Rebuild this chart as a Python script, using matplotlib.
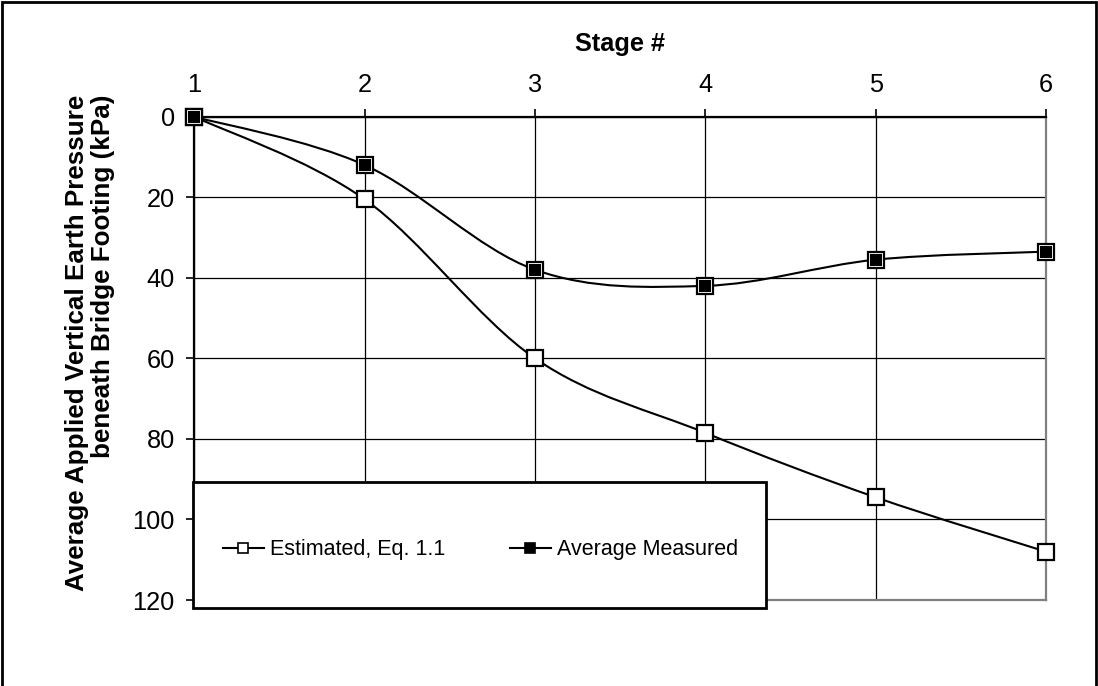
import numpy as np
import matplotlib
matplotlib.use("Agg")
import matplotlib.pyplot as plt
from matplotlib.path import Path
from matplotlib.patches import PathPatch, Rectangle
from matplotlib.lines import Line2D

plt.rcParams['font.family'] = ['Liberation Sans', 'DejaVu Sans']

stages = [1, 2, 3, 4, 5, 6]
estimated = [0, 20.5, 60, 78.5, 94.5, 108]
measured = [0, 12, 38, 42, 35.5, 33.5]
yticks = [0, 20, 40, 60, 80, 100, 120]
xlabel = "Stage #"
ylabel = "Average Applied Vertical Earth Pressure\nbeneath Bridge Footing (kPa)"
labels = ["Estimated, Eq. 1.1", "Average Measured"]

W, H = 1098, 686
fig = plt.figure(figsize=(W / 100, H / 100), dpi=100)
ax = fig.add_axes([194.3 / W, 1 - 600 / H, (1046 - 194.3) / W, (600 - 116.7) / H])

def smooth_path(xs, ys):
    pts = np.column_stack([xs, ys]).astype(float)
    n = len(pts)
    verts = [pts[0]]
    codes = [Path.MOVETO]
    for i in range(n - 1):
        p0 = pts[max(i - 1, 0)]
        p1 = pts[i]
        p2 = pts[i + 1]
        p3 = pts[min(i + 2, n - 1)]
        c1 = p1 + (p2 - p0) / 6.0
        c2 = p2 - (p3 - p1) / 6.0
        verts += [c1, c2, p2]
        codes += [Path.CURVE4] * 3
    return Path(verts, codes)

for ys in (estimated, measured):
    ax.add_patch(PathPatch(smooth_path(stages, ys), facecolor='none',
                           edgecolor='black', lw=1.5, zorder=3, clip_on=False))

ax.plot(stages, estimated, ls='none', marker='s', ms=12, mfc='white', mec='black',
        mew=1.6, zorder=4, clip_on=False)
ax.plot(stages, measured, ls='none', marker='s', ms=12, mfc='white', mec='black',
        mew=1.6, zorder=4, clip_on=False)
ax.plot(stages, measured, ls='none', marker='s', ms=8.5, mfc='black', mec='black',
        mew=0, zorder=5, clip_on=False)

ax.set_xlim(1, 6)
ax.set_ylim(120, 0)
ax.set_xticks(stages)
ax.set_yticks(yticks)
ax.xaxis.tick_top()
ax.xaxis.set_label_position('top')
ax.grid(True, color='black', lw=0.9)
ax.set_axisbelow(True)
ax.tick_params(axis='x', which='both', length=6, width=1.2, pad=8, labelsize=18.3, colors='black')
ax.tick_params(axis='y', which='both', length=6, width=1.2, pad=8, labelsize=18.3, colors='black')
ax.set_xlabel(xlabel, fontsize=18.3, fontweight='bold', labelpad=16)
ax.set_ylabel(ylabel, fontsize=18.7, fontweight='bold', linespacing=1.1,
              multialignment='right')
ax.yaxis.set_label_coords((115 - 194.3) / 851.7, (600 - 343) / 483.3)

for side in ('left', 'top'):
    ax.spines[side].set_color('black')
    ax.spines[side].set_linewidth(1.6)
for side in ('right', 'bottom'):
    ax.spines[side].set_color('#808080')
    ax.spines[side].set_linewidth(1.6)

# legend box
lx0, lx1, ly0, ly1 = 193, 766, 482, 608
fig.patches.append(Rectangle((lx0 / W, 1 - ly1 / H), (lx1 - lx0) / W, (ly1 - ly0) / H,
                             transform=fig.transFigure, facecolor='white',
                             edgecolor='black', lw=2, zorder=10))
h1 = Line2D([], [], color='black', lw=1.5, marker='s', ms=7, mfc='white', mec='black', mew=1.2)
h2 = Line2D([], [], color='black', lw=1.5, marker='s', ms=7, mfc='black', mec='black', mew=1.2)
leg = fig.legend([h1, h2], labels, loc='center left', bbox_to_anchor=(223 / W, 1 - 550 / H),
                 ncol=2, frameon=False, fontsize=15.5, handlelength=1.9, handletextpad=0.28,
                 columnspacing=3.0, borderpad=0, borderaxespad=0)
leg.set_zorder(11)

# outer border
fig.patches.append(Rectangle((2 / W, -0.1), (1096 - 2) / W, 1.1 - 2 / H,
                             transform=fig.transFigure, facecolor='none',
                             edgecolor='black', lw=2, zorder=12))

fig.savefig('out.png', dpi=100)
